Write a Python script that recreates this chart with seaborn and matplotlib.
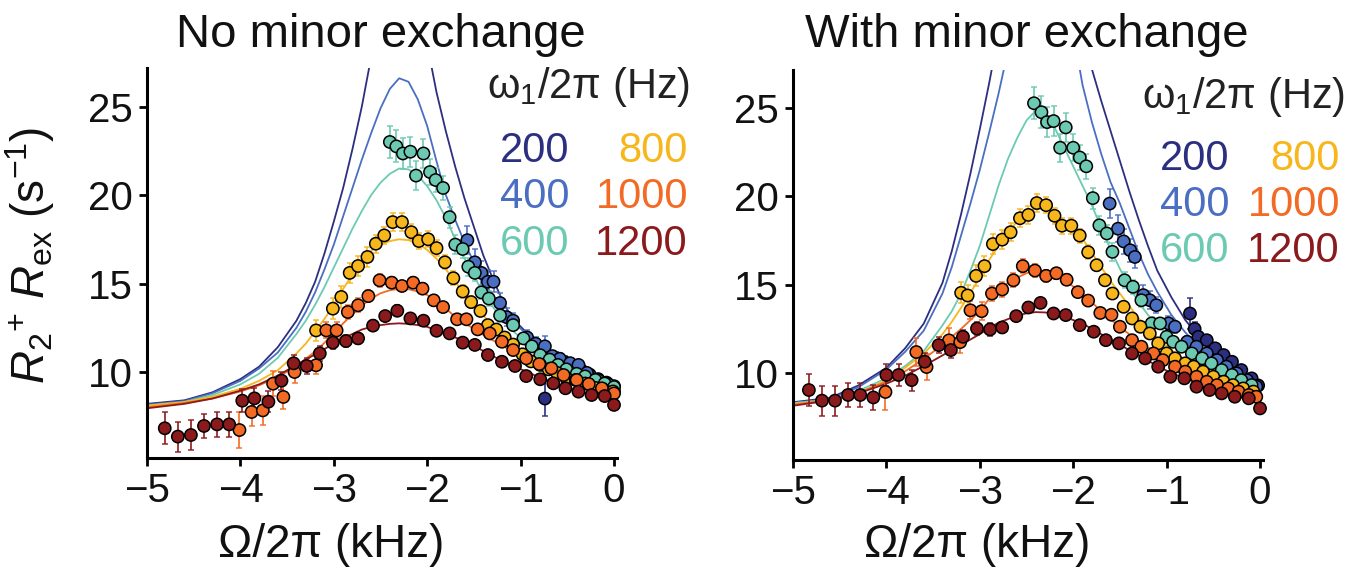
import matplotlib
matplotlib.use("Agg")
import matplotlib.pyplot as plt
import numpy as np
import pandas as pd
import seaborn as sns

sns.set_style("ticks")
plt.rcParams["font.family"] = ["Liberation Sans", "DejaVu Sans"]
plt.rcParams["mathtext.fontset"] = "custom"
plt.rcParams["mathtext.rm"] = "Liberation Sans"
plt.rcParams["mathtext.it"] = "Liberation Sans:italic"
plt.rcParams["axes.unicode_minus"] = True

# ---------------- categories ----------------
fields = [200, 400, 600, 800, 1000, 1200]
field_colors = ["#2c2f80", "#4a6fc2", "#6ccab2", "#f7b61b", "#f26a24", "#8a1a1c"]
panel_titles = ["No minor exchange", "With minor exchange"]
legend_title = "ω$_1$/2π (Hz)"
x_ticks = [-5, -4, -3, -2, -1, 0]
y_ticks = [10, 15, 20, 25]

# ---------------- left panel: data points ----------------
L200_x = [-0.74, -0.62, -0.53, -0.44, -0.35, -0.26, -0.17, -0.08, 0.0]
L200_y = [8.5, 10.75, 10.55, 10.35, 10.1, 9.85, 9.6, 9.4, 9.2]
L200_e = [1.0, 0.4, 0.35, 0.3, 0.3, 0.25, 0.2, 0.2, 0.2]

L400_x = [-1.57, -1.49, -1.42, -1.35, -1.29, -1.22, -1.15, -1.08, -0.93, -0.84, -0.74, -0.66, -0.58, -0.47, -0.38, -0.29, -0.17, -0.06, 0.0]
L400_y = [17.45, 16.2, 15.6, 15.1, 15.1, 13.9, 13.1, 12.9, 11.95, 11.6, 11.45, 10.9, 10.75, 10.5, 10.4, 9.95, 9.55, 9.3, 8.9]
L400_e = [0.8, 0.75, 0.7, 0.65, 0.6, 0.55, 0.5, 0.45, 0.4, 0.35, 0.6, 0.3, 0.3, 0.25, 0.25, 0.2, 0.2, 0.2, 0.15]

L600_x = [-2.40, -2.33, -2.26, -2.18, -2.12, -2.04, -1.97, -1.91, -1.83, -1.76, -1.70, -1.62, -1.56, -1.49, -1.42, -1.34, -1.22, -1.08, -0.97, -0.88, -0.79, -0.69, -0.60, -0.51, -0.40, -0.31, -0.20, -0.10, 0.0]
L600_y = [23.0, 22.75, 22.35, 22.45, 21.1, 22.35, 21.3, 20.85, 20.4, 18.75, 17.2, 16.95, 15.95, 15.6, 14.5, 14.15, 13.2, 12.65, 11.9, 11.45, 10.95, 10.7, 10.4, 10.15, 9.9, 9.75, 9.55, 9.35, 9.15]
L600_e = [0.9, 0.9, 0.85, 0.85, 0.8, 0.8, 0.75, 0.7, 0.7, 0.6, 0.55, 0.5, 0.5, 0.45, 0.4, 0.4, 0.35, 0.3, 0.3, 0.25, 0.25, 0.25, 0.2, 0.2, 0.2, 0.15, 0.15, 0.15, 0.15]

L800_x = [-3.19, -3.01, -2.92, -2.83, -2.74, -2.64, -2.55, -2.46, -2.37, -2.27, -2.17, -2.09, -1.99, -1.90, -1.81, -1.72, -1.62, -1.53, -1.43, -1.35, -1.26, -1.17, -1.08, -0.98, -0.89, -0.79, -0.70, -0.61, -0.51, -0.41, -0.31, -0.20, -0.11, -0.01]
L800_y = [12.35, 13.58, 14.24, 15.6, 15.99, 16.5, 17.25, 17.72, 18.47, 18.47, 17.9, 17.4, 17.5, 17.0, 16.2, 15.3, 14.55, 13.95, 13.45, 12.65, 12.4, 11.95, 11.55, 11.0, 10.6, 10.4, 10.15, 9.95, 9.65, 9.55, 9.35, 9.1, 9.0, 8.9]
L800_e = [0.6, 0.6, 0.6, 0.55, 0.55, 0.55, 0.5, 0.5, 0.5, 0.5, 0.45, 0.45, 0.45, 0.45, 0.4, 0.4, 0.35, 0.35, 0.3, 0.3, 0.3, 0.25, 0.25, 0.25, 0.2, 0.2, 0.2, 0.2, 0.15, 0.15, 0.15, 0.15, 0.15, 0.15]

L1000_x = [-4.01, -3.88, -3.76, -3.65, -3.54, -3.42, -3.19, -3.08, -2.97, -2.85, -2.74, -2.63, -2.51, -2.38, -2.27, -2.15, -2.05, -1.93, -1.83, -1.68, -1.58, -1.46, -1.33, -1.20, -1.08, -0.94, -0.80, -0.67, -0.54, -0.40, -0.27, -0.13, 0.0]
L1000_y = [6.72, 7.74, 7.83, 9.34, 8.59, 10.0, 10.38, 12.35, 12.35, 13.39, 13.77, 14.29, 15.18, 15.05, 14.86, 15.05, 14.71, 14.05, 13.67, 12.98, 12.98, 12.41, 12.18, 11.71, 11.24, 10.77, 10.45, 10.21, 9.83, 9.55, 9.32, 9.08, 8.79]
L1000_e = [1.0, 0.8, 0.8, 0.7, 0.7, 0.6, 0.5, 0.45, 0.45, 0.4, 0.4, 0.35, 0.35, 0.3, 0.3, 0.3, 0.3, 0.3, 0.25, 0.25, 0.25, 0.2, 0.2, 0.2, 0.2, 0.2, 0.15, 0.15, 0.15, 0.15, 0.15, 0.15, 0.15]

L1200_x = [-4.81, -4.67, -4.53, -4.39, -4.25, -4.12, -3.98, -3.85, -3.70, -3.56, -3.43, -3.29, -3.15, -3.01, -2.87, -2.74, -2.58, -2.45, -2.32, -2.18, -2.04, -1.90, -1.76, -1.62, -1.49, -1.35, -1.20, -1.06, -0.94, -0.79, -0.65, -0.52, -0.38, -0.24, -0.10, 0.0]
L1200_y = [6.82, 6.35, 6.44, 6.95, 7.04, 7.04, 8.38, 8.51, 8.32, 9.51, 10.49, 10.34, 11.05, 11.66, 11.75, 11.90, 12.62, 13.16, 13.46, 13.03, 12.90, 12.33, 12.18, 11.66, 11.53, 10.96, 10.58, 10.34, 9.77, 9.59, 9.36, 9.08, 8.89, 8.70, 8.64, 8.14]
L1200_e = [0.9, 0.85, 0.85, 0.7, 0.7, 0.7, 0.65, 0.6, 0.6, 0.5, 0.45, 0.45, 0.4, 0.35, 0.35, 0.3, 0.3, 0.3, 0.3, 0.25, 0.25, 0.25, 0.2, 0.2, 0.2, 0.2, 0.2, 0.2, 0.15, 0.15, 0.15, 0.15, 0.15, 0.15, 0.15, 0.15]

# ---------------- fitted curves (offset grid shared by both panels) ----------------
fit_x = [-5.0, -4.6, -4.3, -4.0, -3.8, -3.6, -3.4, -3.3, -3.2, -3.1, -3.0, -2.9, -2.8, -2.7, -2.6, -2.5, -2.4, -2.3,
         -2.2, -2.1, -2.0, -1.9, -1.8, -1.7, -1.6, -1.5, -1.4, -1.3, -1.2, -1.1, -0.95, -0.8, -0.6, -0.4, -0.2, 0.0]

L200_fit = [8.2, 8.4, 8.85, 9.6, 10.3, 11.4, 12.9, 13.9, 15.1, 16.7, 18.5, 20.4, 22.6, 25.0, 27.8, 30.5, 33.0, 34.5,
            34.0, 31.5, 28.5, 25.8, 23.6, 21.6, 19.8, 18.2, 16.6, 15.3, 14.1, 13.1, 12.3, 11.6, 10.8, 10.2, 9.6, 9.2]
L400_fit = [8.15, 8.35, 8.8, 9.5, 10.2, 11.1, 12.5, 13.4, 14.5, 15.8, 17.2, 18.8, 20.4, 22.0, 23.5, 24.9, 26.0, 26.6,
            26.4, 25.4, 23.9, 21.9, 20.0, 18.6, 17.3, 16.2, 15.2, 14.3, 13.6, 12.95, 12.2, 11.5, 10.8, 10.1, 9.5, 9.1]
L600_fit = [8.1, 8.3, 8.7, 9.3, 9.9, 10.8, 12.15, 12.9, 13.8, 14.8, 15.9, 17.0, 18.1, 19.1, 20.0, 20.7, 21.2, 21.5,
            21.45, 21.1, 20.5, 19.7, 18.7, 17.5, 16.4, 15.4, 14.5, 13.7, 13.0, 12.4, 11.7, 11.1, 10.4, 9.85, 9.4, 9.0]
L800_fit = [8.1, 8.3, 8.6, 9.05, 9.5, 10.1, 11.05, 11.6, 12.3, 13.0, 13.8, 14.7, 15.5, 16.3, 16.85, 17.2, 17.4, 17.5,
            17.45, 17.25, 16.9, 16.4, 15.8, 15.1, 14.4, 13.8, 13.2, 12.6, 12.0, 11.55, 11.0, 10.5, 10.0, 9.6, 9.2, 8.9]
L1000_fit = [8.0, 8.25, 8.5, 8.9, 9.25, 9.7, 10.35, 10.75, 11.15, 11.65, 12.2, 12.75, 13.25, 13.75, 14.15, 14.45, 14.62, 14.7,
             14.68, 14.55, 14.35, 14.0, 13.6, 13.1, 12.75, 12.45, 12.1, 11.8, 11.5, 11.2, 10.8, 10.4, 9.9, 9.5, 9.1, 8.8]
L1200_fit = [7.95, 8.2, 8.5, 8.95, 9.3, 9.8, 10.4, 10.7, 11.0, 11.3, 11.6, 11.9, 12.15, 12.4, 12.55, 12.65, 12.72, 12.75,
             12.72, 12.65, 12.55, 12.35, 12.15, 11.95, 11.75, 11.45, 11.2, 10.9, 10.65, 10.4, 10.05, 9.7, 9.3, 8.95, 8.65, 8.4]

# ---------------- right panel: data points ----------------
R200_x = [-0.75, -0.70, -0.66, -0.57, -0.48, -0.39, -0.30, -0.20, -0.09, -0.02]
R200_y = [13.37, 12.5, 12.05, 11.86, 11.4, 11.02, 10.64, 10.17, 9.7, 9.3]
R200_e = [0.9, 0.4, 0.35, 0.3, 0.3, 0.25, 0.25, 0.2, 0.2, 0.2]

R400_x = [-1.61, -1.52, -1.46, -1.39, -1.34, -1.25, -1.18, -1.11, -0.98, -0.91, -0.78, -0.68, -0.57, -0.46, -0.36, -0.25, -0.14, -0.04]
R400_y = [19.59, 18.17, 17.45, 16.95, 16.57, 14.41, 14.12, 13.84, 12.81, 12.62, 11.77, 11.49, 11.11, 10.73, 10.36, 9.98, 9.6, 9.23]
R400_e = [0.8, 0.75, 0.7, 0.65, 0.6, 0.55, 0.5, 0.45, 0.4, 0.35, 0.3, 0.3, 0.25, 0.25, 0.2, 0.2, 0.2, 0.15]

R600_x = [-2.42, -2.34, -2.28, -2.21, -2.14, -2.08, -2.00, -1.93, -1.86, -1.79, -1.72, -1.64, -1.58, -1.45, -1.36, -1.27, -1.16, -1.07, -1.00, -0.93, -0.84, -0.73, -0.62, -0.52, -0.41, -0.30, -0.20, -0.09]
R600_y = [25.27, 24.76, 24.2, 24.26, 22.75, 23.9, 22.75, 22.2, 21.7, 19.9, 18.36, 17.9, 16.86, 15.25, 14.88, 14.12, 12.81, 12.81, 12.05, 11.77, 11.49, 11.11, 10.83, 10.55, 10.17, 9.89, 9.6, 9.32]
R600_e = [0.9, 0.9, 0.85, 0.85, 0.8, 0.8, 0.75, 0.7, 0.7, 0.6, 0.55, 0.5, 0.5, 0.45, 0.4, 0.4, 0.35, 0.3, 0.3, 0.25, 0.25, 0.25, 0.2, 0.2, 0.2, 0.15, 0.15, 0.15]

R800_x = [-3.20, -3.13, -3.04, -2.95, -2.86, -2.76, -2.67, -2.57, -2.48, -2.39, -2.29, -2.20, -2.12, -2.02, -1.93, -1.84, -1.75, -1.66, -1.58, -1.46, -1.37, -1.28, -1.18, -1.09, -1.00, -0.91, -0.80, -0.71, -0.61, -0.50, -0.39, -0.29, -0.18, -0.07]
R800_y = [14.54, 14.39, 15.5, 16.05, 17.3, 17.55, 17.97, 18.76, 18.95, 19.62, 19.5, 18.9, 18.34, 18.34, 17.78, 16.84, 16.1, 15.25, 14.5, 13.75, 13.09, 12.62, 12.24, 11.68, 11.11, 10.83, 10.55, 10.36, 10.08, 9.79, 9.51, 9.32, 9.13, 8.95]
R800_e = [0.6, 0.6, 0.6, 0.55, 0.55, 0.55, 0.5, 0.5, 0.5, 0.5, 0.45, 0.45, 0.45, 0.45, 0.4, 0.4, 0.35, 0.35, 0.3, 0.3, 0.3, 0.25, 0.25, 0.25, 0.2, 0.2, 0.2, 0.2, 0.15, 0.15, 0.15, 0.15, 0.15, 0.15]

R1000_x = [-4.01, -3.68, -3.57, -3.33, -3.21, -3.10, -2.98, -2.87, -2.76, -2.64, -2.54, -2.41, -2.29, -2.18, -2.07, -1.95, -1.84, -1.71, -1.59, -1.50, -1.37, -1.27, -1.14, -1.04, -0.91, -0.80, -0.68, -0.57, -0.46, -0.34, -0.23, -0.12, -0.04]
R1000_y = [8.93, 11.19, 10.34, 11.85, 11.75, 13.55, 13.5, 14.5, 14.73, 15.25, 16.05, 15.8, 15.5, 15.65, 15.28, 14.58, 14.1, 13.4, 13.3, 12.62, 11.86, 11.49, 11.11, 10.73, 10.36, 10.08, 9.79, 9.51, 9.32, 9.13, 8.95, 8.76, 8.66]
R1000_e = [1.0, 0.8, 0.75, 0.7, 0.6, 0.5, 0.5, 0.45, 0.45, 0.4, 0.4, 0.35, 0.35, 0.3, 0.3, 0.3, 0.3, 0.25, 0.25, 0.25, 0.2, 0.2, 0.2, 0.2, 0.2, 0.15, 0.15, 0.15, 0.15, 0.15, 0.15, 0.15, 0.15]

R1200_x = [-4.83, -4.69, -4.55, -4.41, -4.28, -4.14, -4.00, -3.87, -3.73, -3.59, -3.44, -3.31, -3.18, -3.03, -2.89, -2.76, -2.61, -2.48, -2.35, -2.21, -2.08, -1.93, -1.78, -1.65, -1.51, -1.37, -1.23, -1.09, -0.96, -0.81, -0.68, -0.54, -0.41, -0.27, -0.12, 0.0]
R1200_y = [9.04, 8.44, 8.44, 8.76, 8.76, 8.62, 9.89, 9.89, 9.60, 10.64, 11.58, 11.30, 12.05, 12.52, 12.47, 12.58, 13.22, 13.71, 13.97, 13.37, 13.28, 12.71, 12.34, 11.86, 11.68, 11.11, 10.83, 10.36, 9.79, 9.70, 9.23, 9.04, 8.85, 8.66, 8.57, 8.0]
R1200_e = [0.9, 0.85, 0.85, 0.7, 0.7, 0.7, 0.65, 0.6, 0.6, 0.5, 0.45, 0.45, 0.4, 0.35, 0.35, 0.3, 0.3, 0.3, 0.3, 0.25, 0.25, 0.25, 0.2, 0.2, 0.2, 0.2, 0.2, 0.2, 0.15, 0.15, 0.15, 0.15, 0.15, 0.15, 0.15, 0.15]

R200_fit = [8.35, 8.6, 9.3, 10.3, 11.4, 12.8, 15.1, 16.9, 19.0, 21.3, 23.8, 26.4, 29.2, 32.5, 35.5, 38.0, 40.0, 41.0,
            40.5, 38.5, 35.0, 31.0, 27.2, 25.4, 23.7, 22.0, 20.3, 18.7, 17.2, 15.8, 14.3, 13.0, 11.7, 10.7, 9.9, 9.3]
R400_fit = [8.3, 8.55, 9.2, 10.2, 11.2, 12.4, 14.5, 16.0, 17.8, 19.6, 21.5, 23.6, 25.8, 28.2, 30.5, 32.3, 33.5, 34.0,
            33.6, 32.0, 29.3, 26.3, 24.2, 22.4, 20.8, 19.6, 18.2, 16.8, 15.6, 14.6, 13.3, 12.3, 11.2, 10.4, 9.7, 9.2]
R600_fit = [8.3, 8.5, 9.0, 9.7, 10.4, 11.25, 12.7, 13.5, 14.5, 15.8, 17.2, 18.9, 20.6, 22.1, 23.3, 24.3, 24.85, 24.7,
            23.9, 22.8, 21.7, 20.6, 19.5, 18.2, 17.0, 15.9, 14.9, 14.0, 13.3, 12.7, 12.0, 11.3, 10.5, 9.95, 9.45, 9.0]
R800_fit = [8.25, 8.45, 8.85, 9.6, 10.3, 11.1, 12.2, 12.9, 13.7, 14.55, 15.4, 16.4, 17.2, 17.9, 18.6, 19.05, 19.3, 19.3,
            19.1, 18.6, 18.1, 17.6, 16.8, 16.0, 15.2, 14.5, 13.8, 13.1, 12.5, 12.0, 11.3, 10.75, 10.1, 9.6, 9.2, 8.9]
R1000_fit = [8.2, 8.5, 8.9, 9.5, 10.1, 10.8, 11.6, 12.05, 12.5, 13.0, 13.5, 14.2, 14.75, 15.1, 15.4, 15.65, 15.8, 15.78,
             15.65, 15.3, 14.9, 14.45, 14.0, 13.5, 13.05, 12.6, 12.2, 11.8, 11.45, 11.1, 10.6, 10.2, 9.7, 9.3, 9.0, 8.7]
R1200_fit = [8.15, 8.45, 8.85, 9.4, 9.85, 10.4, 11.0, 11.3, 11.6, 11.9, 12.2, 12.55, 12.85, 13.05, 13.25, 13.38, 13.45, 13.43,
             13.35, 13.2, 13.0, 12.8, 12.5, 12.2, 11.9, 11.6, 11.3, 11.0, 10.7, 10.4, 10.0, 9.7, 9.3, 8.95, 8.6, 8.3]

panels = [
    dict(pts=[(L200_x, L200_y, L200_e), (L400_x, L400_y, L400_e), (L600_x, L600_y, L600_e),
              (L800_x, L800_y, L800_e), (L1000_x, L1000_y, L1000_e), (L1200_x, L1200_y, L1200_e)],
         fits=[L200_fit, L400_fit, L600_fit, L800_fit, L1000_fit, L1200_fit]),
    dict(pts=[(R200_x, R200_y, R200_e), (R400_x, R400_y, R400_e), (R600_x, R600_y, R600_e),
              (R800_x, R800_y, R800_e), (R1000_x, R1000_y, R1000_e), (R1200_x, R1200_y, R1200_e)],
         fits=[R200_fit, R400_fit, R600_fit, R800_fit, R1000_fit, R1200_fit]),
]

W, H = 1358, 568
fig = plt.figure(figsize=(W / 100, H / 100), dpi=100)
palette = dict(zip(fields, field_colors))

axes_px = [(147, 68, 470, 390, (5.14, 27.18)), (793, 70, 470, 390, (5.08, 27.15))]

for i, (panel, (px, py, pw, ph, ylim)) in enumerate(zip(panels, axes_px)):
    ax = fig.add_axes([px / W, 1 - (py + ph) / H, pw / W, ph / H])
    rows = []
    for f, fit in zip(fields, panel["fits"]):
        for xv, yv in zip(fit_x, fit):
            rows.append((f, xv, yv))
    fit_df = pd.DataFrame(rows, columns=["field", "offset", "rate"])
    sns.lineplot(data=fit_df, x="offset", y="rate", hue="field", palette=palette,
                 hue_order=fields, estimator=None, sort=False, linewidth=1.3,
                 legend=False, ax=ax, zorder=2)
    n_lines = len(ax.lines)
    prow = []
    for f, c, (xs, ys, es) in zip(fields, field_colors, panel["pts"]):
        ax.errorbar(xs, ys, yerr=es, fmt="none", ecolor=c, elinewidth=1.4,
                    capsize=2, capthick=1.2, zorder=3, clip_on=False, alpha=0.85)
        for xv, yv in zip(xs, ys):
            prow.append((f, xv, yv))
    pts_df = pd.DataFrame(prow, columns=["field", "offset", "rate"])
    sns.scatterplot(data=pts_df, x="offset", y="rate", hue="field", palette=palette,
                    hue_order=fields, s=78, edgecolor="black", linewidth=1.1,
                    legend=False, ax=ax, zorder=4)
    for coll in ax.collections:
        coll.set_clip_on(False)

    ax.set_xlim(-5, 0.032)
    ax.set_ylim(*ylim)
    ax.set_xticks(x_ticks)
    ax.set_yticks(y_ticks)
    ax.set_xlabel("")
    ax.set_ylabel("")
    sns.despine(ax=ax)
    for s in ["left", "bottom"]:
        ax.spines[s].set_linewidth(2.2)
        ax.spines[s].set_color("black")
    ax.tick_params(axis="both", which="major", length=6, width=2, labelsize=29,
                   color="black", labelcolor="#111111", pad=4)

    cx = px + pw / 2 - 1
    fig.text(cx / W, 1 - 35 / H, panel_titles[i], ha="center", va="center",
             fontsize=34, color="#111111")
    fig.text((px + 184) / W, 1 - 545 / H, "Ω/2π (kHz)", ha="center", va="center",
             fontsize=33, color="#111111")

fig.text(30 / W, 1 - 255 / H, r"$R_2$$^{+}$ $R_{\rm ex}$ (s$^{-1}$)", rotation=90,
         ha="center", va="center", fontsize=33, color="#111111")

legend_pos = [
    dict(hx=487, hy=98, lx=500, rx=688, rows=[162, 208, 255]),
    dict(hx=1142, hy=108, lx=1160, rx=1340, rows=[170, 216, 262]),
]
for lp in legend_pos:
    fig.text(lp["hx"] / W, 1 - lp["hy"] / H, legend_title, ha="left", va="baseline",
             fontsize=30, color="#222222")
    for k in range(3):
        fig.text(lp["lx"] / W, 1 - lp["rows"][k] / H, str(fields[k]), ha="left",
                 va="baseline", fontsize=30, color=field_colors[k])
        fig.text(lp["rx"] / W, 1 - lp["rows"][k] / H, str(fields[k + 3]), ha="right",
                 va="baseline", fontsize=30, color=field_colors[k + 3])

fig.savefig("out.png", dpi=100)
